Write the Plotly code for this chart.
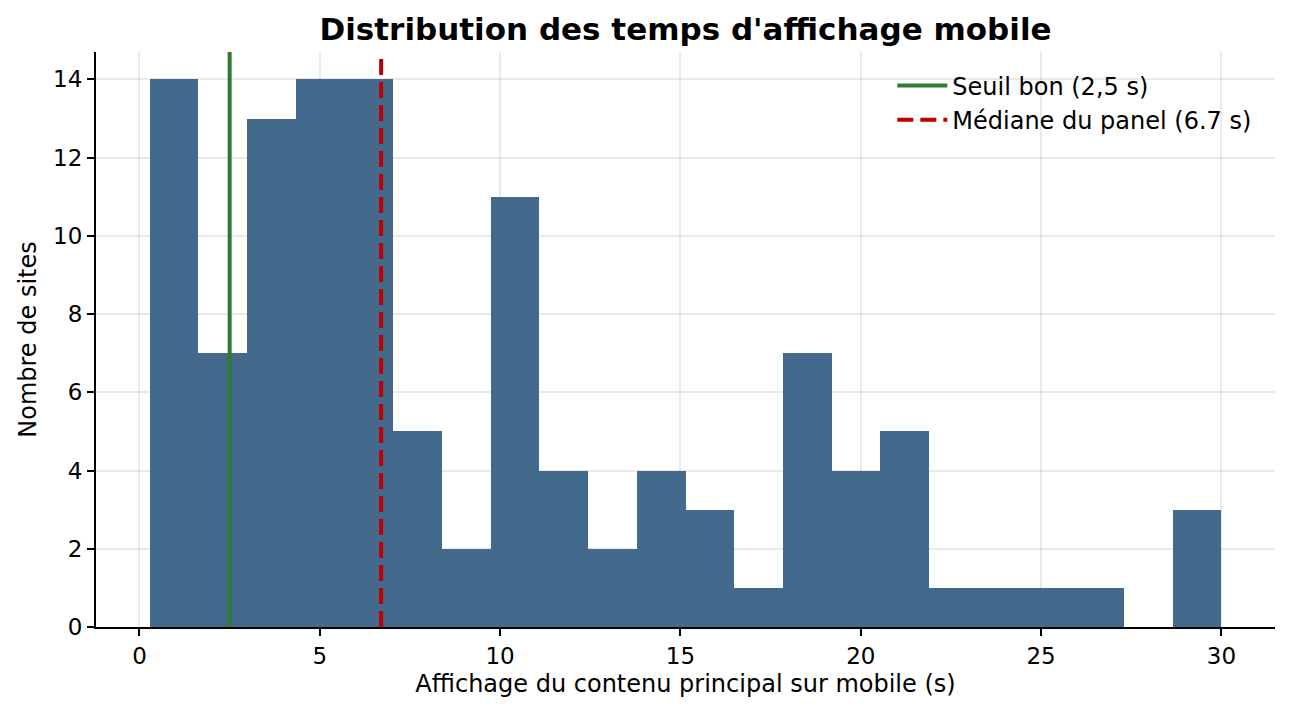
import numpy as np
import plotly.graph_objects as go

# ===== 数据 =====
counts = [14, 7, 13, 14, 14, 5, 2, 11, 4, 2, 4, 3, 1, 7, 4, 5, 1, 1, 1, 1, 0, 3]
x_min = 0.28
x_max = 30.0
seuil_bon = 2.5
mediane = 6.7

edges = np.linspace(x_min, x_max, len(counts) + 1)
centres = (edges[:-1] + edges[1:]) / 2
largeur = edges[1] - edges[0]

fig = go.Figure()
fig.add_trace(go.Bar(
    x=centres, y=counts, width=largeur,
    marker=dict(color='#436a8c', line=dict(width=0)),
    showlegend=False, hoverinfo='x+y'
))

fig.add_shape(type='line', x0=seuil_bon, x1=seuil_bon, y0=0, y1=1,
              xref='x', yref='paper', layer='above',
              line=dict(color='#2e7d32', width=4),
              showlegend=True, name='Seuil bon (2,5 s)')
fig.add_shape(type='line', x0=mediane, x1=mediane, y0=0, y1=1,
              xref='x', yref='paper', layer='above',
              line=dict(color='#c00000', width=4, dash='16px,7px'),
              showlegend=True, name='Médiane du panel (6.7 s)')

span = x_max - x_min
axe = dict(
    showgrid=True, gridcolor='rgba(176,176,176,0.27)', gridwidth=1.5,
    showline=True, linecolor='black', linewidth=2,
    ticks='outside', ticklen=7, tickwidth=2, tickcolor='black',
    tickfont=dict(size=23, color='black'), zeroline=False,
    layer='above traces', automargin=False,
)
fig.update_layout(
    title=dict(text="<b>Distribution des temps d'affichage mobile</b>",
               x=0.5, xref='paper', xanchor='center', y=0.97, yanchor='middle',
               font=dict(size=31, color='black')),
    width=1275, height=699,
    margin=dict(l=88, r=8, t=44, b=80),
    paper_bgcolor='white', plot_bgcolor='white',
    font=dict(family='DejaVu Sans', color='black'),
    xaxis=dict(axe, range=[x_min - 0.05 * span, x_max + 0.05 * span],
               tickvals=[0, 5, 10, 15, 20, 25, 30],
               title=dict(text='Affichage du contenu principal sur mobile (s)',
                          font=dict(size=24), standoff=8)),
    yaxis=dict(axe, range=[0, 14.7], tickvals=list(range(0, 15, 2)),
               title=dict(text='Nombre de sites', font=dict(size=24), standoff=10)),
    legend=dict(x=0.985, y=0.98, xanchor='right', yanchor='top',
                bgcolor='rgba(255,255,255,0)', font=dict(size=24),
                itemwidth=50, tracegroupgap=4),
    bargap=0,
)

fig.write_html("out.html")
